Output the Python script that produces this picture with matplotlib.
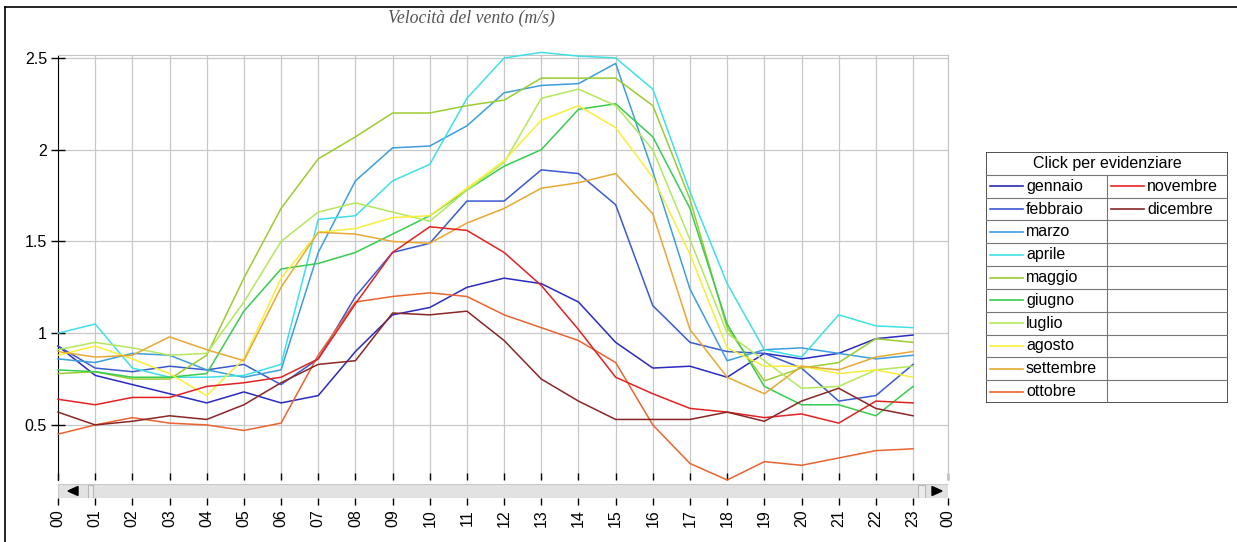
import numpy as np
import matplotlib
matplotlib.use("Agg")
import matplotlib.pyplot as plt
from matplotlib.patches import Rectangle, Polygon
from matplotlib.lines import Line2D

# hourly mean wind speed (m/s) per month
hours = list(range(24))
hour_labels = ["%02d" % h for h in hours] + ["00"]

gennaio = [0.93, 0.77, 0.72, 0.67, 0.62, 0.68, 0.62, 0.66, 0.90, 1.10, 1.14, 1.25,
           1.30, 1.27, 1.17, 0.95, 0.81, 0.82, 0.76, 0.89, 0.86, 0.89, 0.97, 0.99]
febbraio = [0.93, 0.81, 0.79, 0.82, 0.80, 0.83, 0.72, 0.86, 1.20, 1.44, 1.49, 1.72,
            1.72, 1.89, 1.87, 1.70, 1.15, 0.95, 0.90, 0.89, 0.81, 0.63, 0.66, 0.83]
marzo = [0.86, 0.84, 0.89, 0.88, 0.80, 0.76, 0.80, 1.44, 1.83, 2.01, 2.02, 2.13,
         2.31, 2.35, 2.36, 2.47, 1.88, 1.24, 0.85, 0.91, 0.92, 0.89, 0.86, 0.88]
aprile = [1.00, 1.05, 0.81, 0.76, 0.76, 0.77, 0.83, 1.62, 1.64, 1.83, 1.92, 2.28,
          2.50, 2.53, 2.51, 2.50, 2.33, 1.77, 1.27, 0.91, 0.87, 1.10, 1.04, 1.03]
maggio = [0.78, 0.79, 0.75, 0.75, 0.88, 1.30, 1.68, 1.95, 2.07, 2.20, 2.20, 2.24,
          2.27, 2.39, 2.39, 2.39, 2.24, 1.73, 1.03, 0.74, 0.81, 0.84, 0.97, 0.95]
giugno = [0.80, 0.79, 0.76, 0.76, 0.78, 1.12, 1.35, 1.38, 1.44, 1.54, 1.64, 1.78,
          1.91, 2.00, 2.22, 2.25, 2.07, 1.68, 1.05, 0.71, 0.61, 0.61, 0.55, 0.71]
luglio = [0.91, 0.95, 0.92, 0.88, 0.89, 1.17, 1.50, 1.66, 1.71, 1.66, 1.61, 1.78,
          1.93, 2.28, 2.33, 2.24, 2.00, 1.51, 1.00, 0.85, 0.70, 0.71, 0.80, 0.82]
agosto = [0.88, 0.93, 0.86, 0.78, 0.66, 0.86, 1.30, 1.55, 1.57, 1.63, 1.64, 1.79,
          1.94, 2.16, 2.24, 2.12, 1.85, 1.43, 0.92, 0.82, 0.82, 0.78, 0.80, 0.76]
settembre = [0.90, 0.87, 0.88, 0.98, 0.91, 0.85, 1.25, 1.55, 1.54, 1.50, 1.49, 1.60,
             1.68, 1.79, 1.82, 1.87, 1.65, 1.02, 0.76, 0.67, 0.82, 0.80, 0.87, 0.90]
ottobre = [0.45, 0.50, 0.54, 0.51, 0.50, 0.47, 0.51, 0.88, 1.17, 1.20, 1.22, 1.20,
           1.10, 1.03, 0.96, 0.84, 0.50, 0.29, 0.20, 0.30, 0.28, 0.32, 0.36, 0.37]
novembre = [0.64, 0.61, 0.65, 0.65, 0.71, 0.73, 0.76, 0.86, 1.16, 1.44, 1.58, 1.56,
            1.44, 1.26, 1.02, 0.76, 0.67, 0.59, 0.57, 0.54, 0.56, 0.51, 0.63, 0.62]
dicembre = [0.57, 0.50, 0.52, 0.55, 0.53, 0.61, 0.73, 0.83, 0.85, 1.11, 1.10, 1.12,
            0.96, 0.75, 0.63, 0.53, 0.53, 0.53, 0.57, 0.52, 0.63, 0.70, 0.59, 0.55]

months = ["gennaio", "febbraio", "marzo", "aprile", "maggio", "giugno", "luglio",
          "agosto", "settembre", "ottobre", "novembre", "dicembre"]
series = [gennaio, febbraio, marzo, aprile, maggio, giugno, luglio, agosto,
          settembre, ottobre, novembre, dicembre]
colors = ["#2a2ac0", "#3a5ad0", "#3c9ee0", "#3ee0e6", "#9ccc30", "#38cc50",
          "#b4e85a", "#f8ee3a", "#e8a832", "#ea6430", "#e22222", "#8a2626"]

W, H = 1237, 542
plt.rcParams['font.family'] = ['Liberation Sans', 'DejaVu Sans']

fig = plt.figure(figsize=(W / 100, H / 100), dpi=100)
fig.patch.set_facecolor('white')


def fx(px):
    return px / W


def fy(py):
    return 1 - py / H


# outer frame (left/top visible)
fig.add_artist(Line2D([fx(5), fx(5)], [0, fy(7)], color='black', lw=1.2))
fig.add_artist(Line2D([fx(5), 1], [fy(7), fy(7)], color='black', lw=1.2))

ax = fig.add_axes([fx(58), fy(480), (948 - 58) / W, (480 - 55) / H])
for s, c in zip(series, colors):
    ax.plot(hours, s, color=c, lw=1.1, zorder=3, clip_on=False)

x_end = 23.94
ax.set_xlim(0, x_end)
ax.set_ylim(0.2, 2.516)
ticks_x = hours + [x_end]
ax.set_xticks(ticks_x)
ax.set_xticklabels([])
ax.tick_params(axis='x', direction='in', length=5, width=1, color='black')
ax.set_yticks([0.5, 1, 1.5, 2, 2.5])
ax.set_yticklabels(["0.5", "1", "1.5", "2", "2.5"], fontsize=11.5)
ax.tick_params(axis='y', direction='inout', length=10, width=1, color='black', pad=3)
ax.grid(True, color='#c8c8c8', lw=0.9, zorder=0)
ax.spines['left'].set_color('black')
ax.spines['bottom'].set_visible(False)
for sp in ['top', 'right']:
    ax.spines[sp].set_color('#c4c4c4')

# second tick row under the scroll bar
sec = ax.secondary_xaxis(-(498 - 480) / (480 - 55))
sec.set_xticks(ticks_x)
sec.set_xticklabels(hour_labels, rotation=90, fontsize=11.5)
sec.tick_params(direction='out', length=5, width=1, color='black', pad=3)
sec.spines['bottom'].set_visible(False)

# scroll bar
sax = fig.add_axes([fx(58), fy(498), (948 - 58) / W, 14 / H])
sax.set_xlim(58, 948)
sax.set_ylim(0, 14)
sax.axis('off')
sax.add_patch(Rectangle((58, 0), 890, 14, facecolor='#e2e2e2', edgecolor='#c8c8c8', lw=0.8))
sax.add_patch(Rectangle((88, 0.5), 5, 13, facecolor='#ececec', edgecolor='#b8b8b8', lw=0.8))
sax.add_patch(Rectangle((918, 0.5), 7, 13, facecolor='#ececec', edgecolor='#b8b8b8', lw=0.8))
sax.add_patch(Polygon([[68, 7], [78, 2.5], [78, 11.5]], closed=True, color='black'))
sax.add_patch(Polygon([[942, 7], [932, 2.5], [932, 11.5]], closed=True, color='black'))

# title
fig.text(fx(471), fy(18), "Velocità del vento (m/s)", ha='center', va='center',
         fontsize=12.8, style='italic', family='Liberation Serif', color='#555555')

# legend table
lw_, lh = 242, 251
lax = fig.add_axes([fx(986), fy(403), lw_ / W, lh / H])
lax.set_xlim(0, lw_)
lax.set_ylim(lh, 0)
lax.axis('off')
rh = lh / 11
lax.add_patch(Rectangle((0, 0), lw_, lh, fill=False, edgecolor='#333333', lw=1.2))
for r in range(1, 11):
    lax.plot([0, lw_], [r * rh, r * rh], color='#777777', lw=0.8)
lax.plot([121, 121], [rh, lh], color='#777777', lw=0.8)
lax.text(121, rh / 2, "Click per evidenziare", ha='center', va='center', fontsize=11.5)
for i, (m, c) in enumerate(zip(months, colors)):
    col = 0 if i < 10 else 1
    row = i + 1 if i < 10 else i - 9
    x0 = col * 121
    yc = row * rh + rh / 2
    lax.plot([x0 + 4, x0 + 37], [yc, yc], color=c, lw=1.2)
    lax.text(x0 + 40, yc, m, ha='left', va='center', fontsize=11.5)

fig.savefig("out.png", dpi=100)
